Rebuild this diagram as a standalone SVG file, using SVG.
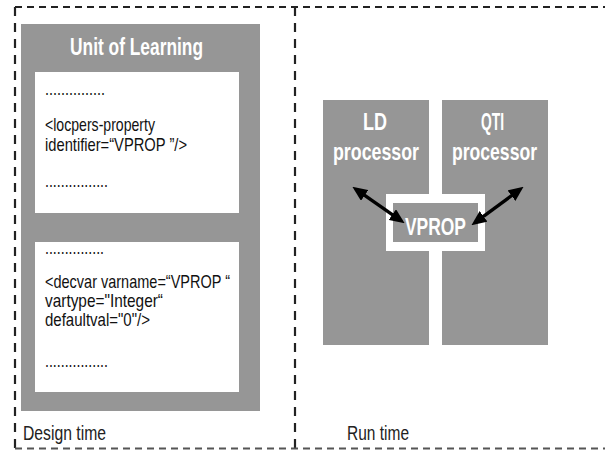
<svg xmlns="http://www.w3.org/2000/svg" width="605" height="450" viewBox="0 0 605 450">
<style>
.frame{fill:none;stroke:#222;stroke-width:2.2}
.gray{fill:#969696}
.white{fill:#ffffff}
.lbl{font-family:"Liberation Sans Narrow","Liberation Sans",Arial,sans-serif;font-weight:bold;font-size:23px;fill:#ffffff}
.code{font-family:"Liberation Sans Narrow","Liberation Sans",Arial,sans-serif;font-size:19px;fill:#111}
.cap{font-family:"Liberation Sans Narrow","Liberation Sans",Arial,sans-serif;font-size:20px;fill:#222}
.conn{stroke:#000;stroke-width:3.4;fill:none}
</style>
<defs>
<marker id="ah" markerUnits="userSpaceOnUse" markerWidth="15" markerHeight="13" refX="3" refY="6.5" orient="auto-start-reverse" viewBox="0 0 15 13">
<path d="M0,0 L15,6.5 L0,13 z" fill="#000"/>
</marker>
</defs>
<rect width="605" height="450" fill="#ffffff"/>
<g id="frame">
<line class="frame" x1="15" y1="7" x2="605" y2="7" stroke-dasharray="7 5"/>
<line class="frame" x1="15" y1="7" x2="15" y2="448" stroke-dasharray="9 7"/>
<line class="frame" x1="295" y1="7" x2="295" y2="448" stroke-dasharray="9 7"/>
<line class="frame" x1="15" y1="448.5" x2="605" y2="448.5" stroke-dasharray="7 5" style="stroke:#555"/>
<text class="cap" x="23" y="440" textLength="83" lengthAdjust="spacingAndGlyphs">Design time</text>
<text class="cap" x="347" y="440" textLength="62" lengthAdjust="spacingAndGlyphs">Run time</text>
</g>
<g id="unit-of-learning">
<rect class="gray" x="21" y="24" width="239" height="387"/>
<text class="lbl" x="70" y="55" textLength="133" lengthAdjust="spacingAndGlyphs">Unit of Learning</text>
<rect class="white" x="35" y="72" width="204" height="141"/>
<text class="code" x="45" y="95" textLength="60" lengthAdjust="spacingAndGlyphs">...............</text>
<text class="code" x="45" y="131" textLength="110" lengthAdjust="spacingAndGlyphs">&lt;locpers-property</text>
<text class="code" x="45" y="151" textLength="142" lengthAdjust="spacingAndGlyphs">identifier=“VPROP ”/&gt;</text>
<text class="code" x="45" y="187" textLength="63" lengthAdjust="spacingAndGlyphs">................</text>
<rect class="white" x="35" y="242" width="204" height="150"/>
<text class="code" x="45" y="254" textLength="59" lengthAdjust="spacingAndGlyphs">...............</text>
<text class="code" x="45" y="288" textLength="185" lengthAdjust="spacingAndGlyphs">&lt;decvar varname=“VPROP “</text>
<text class="code" x="45" y="307" textLength="118" lengthAdjust="spacingAndGlyphs">vartype="Integer“</text>
<text class="code" x="45" y="326" textLength="105" lengthAdjust="spacingAndGlyphs">defaultval="0"/&gt;</text>
<text class="code" x="45" y="367" textLength="63" lengthAdjust="spacingAndGlyphs">................</text>
</g>
<g id="ld-processor">
<rect class="gray" x="323" y="100" width="106" height="245"/>
<text class="lbl" x="363" y="130" textLength="24" lengthAdjust="spacingAndGlyphs">LD</text>
<text class="lbl" x="333" y="160" textLength="86" lengthAdjust="spacingAndGlyphs">processor</text>
</g>
<g id="qti-processor">
<rect class="gray" x="442" y="100" width="106" height="245"/>
<text class="lbl" x="481" y="130" textLength="23" lengthAdjust="spacingAndGlyphs">QTI</text>
<text class="lbl" x="452" y="160" textLength="85" lengthAdjust="spacingAndGlyphs">processor</text>
</g>
<g id="vprop">
<rect class="white" x="386" y="194" width="99" height="57"/>
<rect class="gray" x="393" y="203" width="85" height="39"/>
<text class="lbl" x="405" y="235" textLength="61" lengthAdjust="spacingAndGlyphs">VPROP</text>
</g>
<g id="connectors">
<line class="conn" x1="362.2" y1="193.7" x2="394.8" y2="216.3" marker-start="url(#ah)" marker-end="url(#ah)"/>
<line class="conn" x1="513.9" y1="193.9" x2="481.1" y2="218.1" marker-start="url(#ah)" marker-end="url(#ah)"/>
</g>
</svg>
